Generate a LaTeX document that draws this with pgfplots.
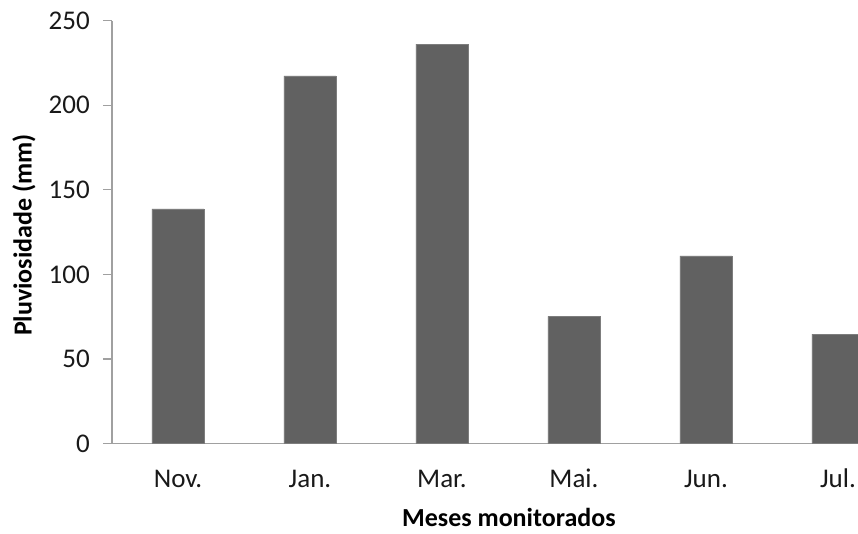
\documentclass[border=0pt]{standalone}
\usepackage{pgfplots}
\pgfplotsset{compat=1.18}
\usepackage{fontspec}
\setmainfont{Carlito}
\definecolor{barcol}{RGB}{97,97,97}
\definecolor{barline}{RGB}{125,125,125}
\definecolor{axcol}{RGB}{160,160,160}
\begin{document}
\begin{tikzpicture}
\begin{axis}[
  at={(112pt,90.5pt)}, anchor=south west,
  scale only axis,
  width=746pt, height=422.8pt,
  xmin=-0.5, xmax=5.152,
  ymin=0, ymax=250,
  ytick={0,50,100,150,200,250},
  xtick={0,1,2,3,4,5},
  xticklabels={Nov.,Jan.,Mar.,Mai.,Jun.,Jul.},
  axis x line=bottom, axis y line=left,
  axis line style={-, draw=axcol, line width=1.2pt},
  tick align=outside,
  major tick length=9pt,
  ytick style={draw=axcol, line width=1.2pt},
  xtick style={draw=none},
  /pgf/number format/assume math mode=true,
  yticklabel style={font=\fontsize{27}{32}\selectfont, anchor=east, inner sep=0pt, xshift=-13pt, text=black!90},
  xticklabel style={font=\fontsize{27}{32}\selectfont, anchor=base, inner sep=0pt, yshift=-34.8pt, text=black!90},
  ylabel={\bfseries Pluviosidade (mm)},
  xlabel={\bfseries Meses monitorados},
  ylabel style={font=\fontsize{26}{31}\selectfont, at={(axis description cs:-0.1076,0.493)}, anchor=base, inner sep=0pt},
  xlabel style={font=\fontsize{26}{31}\selectfont, at={(axis description cs:0.532,0)}, anchor=base, yshift=-83.2pt, inner sep=0pt},
  ybar, bar width=52pt,
  clip=true,
]
\addplot[fill=barcol, draw=barline, line width=0.8pt] coordinates {
  (0,138.7) (1,217.3) (2,236.1) (3,75.2) (4,110.9) (5,64.6)
};
\end{axis}
\pgfresetboundingbox
\path[use as bounding box] (0,0) rectangle (858pt,534pt);
\end{tikzpicture}
\end{document}
